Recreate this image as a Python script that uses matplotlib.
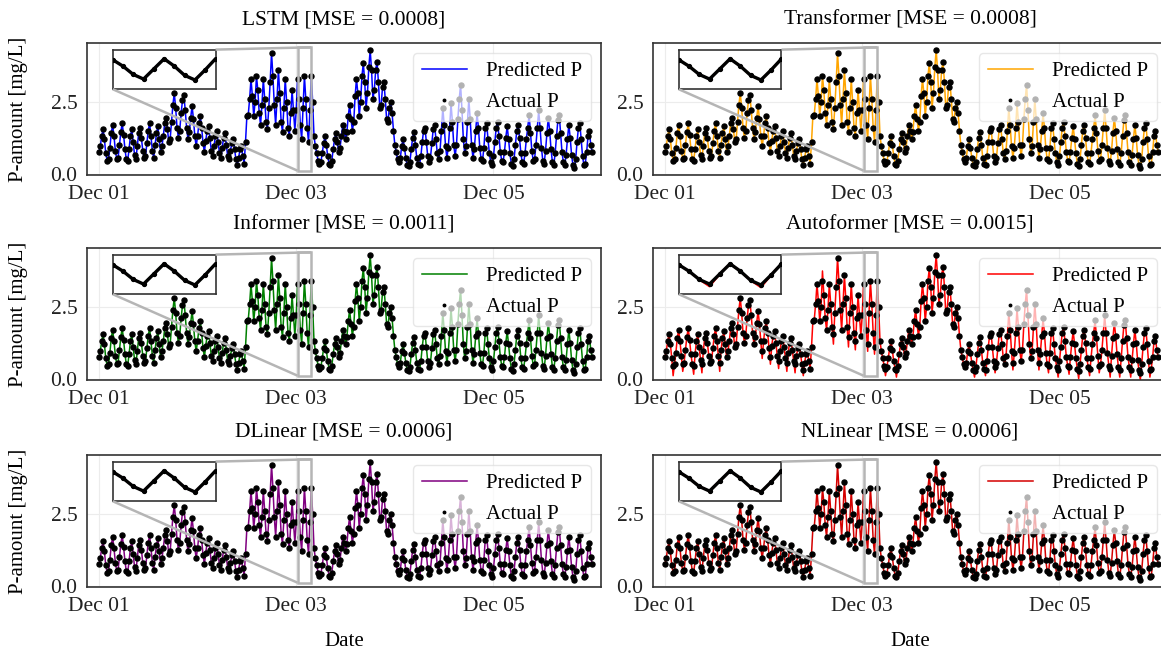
import matplotlib
matplotlib.use('Agg')
import matplotlib.pyplot as plt
import matplotlib.dates as mdates
from mpl_toolkits.axes_grid1.inset_locator import mark_inset
import numpy as np
import pandas as pd

plt.rcParams['font.family'] = ['Liberation Serif', 'DejaVu Serif']

# actual P-amount [mg/L], one value every 20 min from Dec 01 00:00
actual_p = [
    # Dec 01 morning, small daily ripples
    0.75, 0.95, 1.30, 1.55, 1.20, 0.70, 0.45,
    0.50, 0.90, 1.40, 1.70, 1.30, 0.80, 0.50,
    0.55, 1.00, 1.45, 1.75, 1.35, 0.85,
    0.50, 0.45, 0.85, 1.30, 1.55, 1.10, 0.65,
    0.50, 0.95, 1.40, 1.60, 1.25, 0.80,
    0.55, 0.60, 1.05, 1.50, 1.75, 1.30, 0.80,
    0.55, 1.00, 1.40, 1.65, 1.20, 0.75,
    # two tall peaks
    0.95, 1.30, 1.75, 1.95, 1.55, 1.10,
    1.20, 1.80, 2.40, 2.80, 2.30, 1.60, 1.25,
    1.50, 2.10, 2.55, 2.75, 2.20, 1.60,
    # slow decay
    1.20, 1.45, 1.95, 2.35, 1.90, 1.30,
    0.95, 1.30, 1.75, 2.00, 1.60, 1.05,
    0.75, 1.15, 1.50, 1.65, 1.25, 0.80,
    0.60, 0.95, 1.30, 1.50, 1.10, 0.70,
    0.55, 0.90, 1.25, 1.40, 1.00, 0.60,
    0.50, 0.80, 1.05, 1.20, 0.85, 0.50,
    0.30, 0.55, 0.85, 0.95, 0.60, 0.35,
    # high period Dec 02 - Dec 03
    1.10, 2.00, 2.05,
    2.60, 3.30, 2.70, 2.00,
    2.50, 3.40, 2.90, 2.10, 1.70,
    2.40, 3.30, 2.60, 1.80, 1.55,
    2.30, 3.20, 4.20, 3.40, 2.40, 1.70,
    2.60, 3.60, 2.80, 1.80, 1.45,
    2.30, 3.30, 2.50, 1.60, 1.30,
    2.10, 2.90, 2.20, 1.50,
    2.20, 3.30, 2.60, 1.70, 1.20,
    2.30, 3.40, 2.60, 1.60, 1.10,
    2.20, 3.40, 2.50, 1.30,
    # low gap
    0.95, 0.70, 0.45, 0.35, 0.40, 0.70, 1.05, 1.30, 1.00,
    0.60, 0.35, 0.30, 0.45, 0.85, 1.20, 1.40, 1.10, 0.75,
    # second high period
    0.90, 1.30, 1.70, 1.50, 1.20,
    1.45, 2.00, 2.40, 1.90, 1.50,
    1.80, 2.70, 3.30, 2.80, 2.00,
    2.50, 3.40, 3.85, 3.20, 2.30,
    2.80, 3.70, 4.30, 3.60, 2.60,
    2.90, 3.60, 3.90, 3.20, 2.30,
    2.40, 3.00, 3.20, 2.60, 1.90,
    1.80, 2.30, 2.50, 2.10, 1.50,
    # Dec 04 - Dec 06
    1.00, 0.75, 0.50, 0.40, 0.55, 0.95, 1.20, 0.90, 0.55, 0.30, 0.25,
    0.40, 0.85, 1.25, 1.45, 1.00, 0.55, 0.35, 0.30, 0.60, 1.10, 1.50,
    1.60, 1.10, 0.60, 0.40, 0.55, 1.05, 1.55, 1.70, 1.20, 0.70, 0.50,
    0.80, 1.50, 2.30, 1.70, 0.95, 0.55,
    0.90, 1.60, 2.45, 1.80, 1.00, 0.60,
    1.00, 1.90, 2.60, 3.10, 2.20, 1.20, 0.70,
    0.95, 1.80, 2.60, 1.90, 1.00, 0.55,
    0.85, 1.50, 2.10, 1.60, 0.90, 0.50,
    0.45, 0.90, 1.60, 1.75,
    1.20, 0.70, 0.40, 0.30, 0.60, 1.10, 1.60, 1.80, 1.30, 0.75,
    0.45, 0.40, 0.75, 1.25, 1.65, 1.20, 0.70, 0.35, 0.25, 0.50,
    1.00, 1.50, 1.70, 1.25, 0.70, 0.40, 0.35, 0.70, 1.20, 1.60,
    2.05, 1.40, 0.80, 0.45, 0.50, 1.00, 1.60, 2.20, 1.60, 0.90,
    0.45, 0.35, 0.80, 1.40, 1.95, 1.50, 0.85, 0.40, 0.30, 0.70,
    1.30, 1.85, 2.05, 1.40, 0.75, 0.40,
    0.30, 0.65, 1.20, 1.70, 1.25, 0.65, 0.30, 0.20, 0.50, 1.10, 1.60,
    1.75, 1.20, 0.60, 0.30, 0.35, 0.75, 1.30, 1.50, 1.00, 0.75,
]

models = ['LSTM', 'Transformer', 'Informer', 'Autoformer', 'DLinear', 'NLinear']
mse = [0.0008, 0.0008, 0.0011, 0.0015, 0.0006, 0.0006]
colors = ['blue', 'orange', 'green', 'red', 'purple', '#d40000']

# Autoformer over/undershoots (index -> predicted value), everything else follows actual
autoformer_dev = {6: 0.10, 13: 0.25, 21: 0.15, 27: 0.20, 40: 0.25,
                  71: 0.70, 77: 0.50, 83: 0.35, 89: 0.25, 95: 0.20, 101: 0.10,
                  115: 3.75, 123: 1.20, 134: 1.10, 139: 1.00, 148: 0.95,
                  153: 0.85, 161: 0.10, 169: 0.05, 226: 0.05, 234: 0.10, 241: 0.20,
                  254: 0.30, 273: 0.30, 280: 0.20, 287: 0.05, 295: 0.15,
                  302: 0.00, 310: 0.10, 317: 0.20, 325: 0.05, 332: 0.05,
                  340: 0.05, 347: -0.05, 354: 0.05}

time = pd.date_range('2023-12-01 00:00', periods=len(actual_p), freq='20min')
actual = pd.Series(actual_p, index=time)

preds = {}
for m in models:
    p = actual.copy()
    if m == 'Autoformer':
        for i, v in autoformer_dev.items():
            p.iloc[i] = v
    preds[m] = p

W, H = 1161, 652
fig = plt.figure(figsize=(W / 100, H / 100), dpi=100)

lefts = [87, 653]
tops = [43, 248, 455]
aw, ah = 514, 132

xlim = (pd.Timestamp('2023-12-01') - pd.Timedelta(hours=2.9),
        pd.Timestamp('2023-12-01') + pd.Timedelta(days=5.09))
inset_x = (pd.Timestamp('2023-12-03 00:20'), pd.Timestamp('2023-12-03 03:40'))

for k, m in enumerate(models):
    r, c = k // 2, k % 2
    ax = fig.add_axes([lefts[c] / W, 1 - (tops[r] + ah) / H, aw / W, ah / H])
    ax.plot(preds[m].index, preds[m].values, color=colors[k], lw=1.1,
            label='Predicted P', zorder=2)
    ax.plot(actual.index, actual.values, ls='none', marker='o', ms=3.6,
            color='black', label='Actual P', zorder=3)
    ax.set_xlim(xlim)
    ax.set_ylim(-0.05, 4.55)
    ax.set_yticks([0, 2.5])
    ax.yaxis.set_major_formatter(plt.FormatStrFormatter('%.1f'))
    ax.xaxis.set_major_locator(mdates.DayLocator(bymonthday=[1, 3, 5]))
    ax.xaxis.set_major_formatter(mdates.DateFormatter('%b %d'))
    ax.grid(True, color='#ececec', lw=0.8)
    ax.set_axisbelow(True)
    ax.tick_params(length=0, labelsize=15.5, colors='#222222')
    ax.tick_params(axis='x', pad=7)
    ax.tick_params(axis='y', pad=7)
    for s in ax.spines.values():
        s.set_color('#333333')
        s.set_linewidth(1.2)
    ax.set_title(f'{m} [MSE = {mse[k]:.4f}]', fontsize=15.5, pad=13)
    if c == 0:
        ax.set_ylabel('P-amount [mg/L]', fontsize=15, labelpad=16)
    if r == 2:
        ax.set_xlabel('Date', fontsize=15, labelpad=12)
    leg = ax.legend(loc='upper right', fontsize=15, framealpha=0.7,
                    handlelength=2.2, handletextpad=0.9, markerscale=0.5,
                    borderpad=0.4, labelspacing=0.55, edgecolor='#dddddd')
    leg.set_zorder(10)

    axin = ax.inset_axes([0.05, 0.65, 0.2, 0.30])
    axin.plot(preds[m].index, preds[m].values, color=colors[k], lw=1.5, zorder=2)
    axin.plot(actual.index, actual.values, color='black', lw=2.4,
              marker='o', ms=2.8, zorder=3)
    axin.set_xlim(inset_x)
    axin.set_ylim(0.1, 4.4)
    axin.set_xticks([])
    axin.set_yticks([])
    for s in axin.spines.values():
        s.set_color('#333333')
        s.set_linewidth(1.2)
    mark_inset(ax, axin, loc1=1, loc2=3, fc='none', ec='#b5b5b5', lw=1.8, zorder=4)

fig.savefig('out.png', dpi=100)
